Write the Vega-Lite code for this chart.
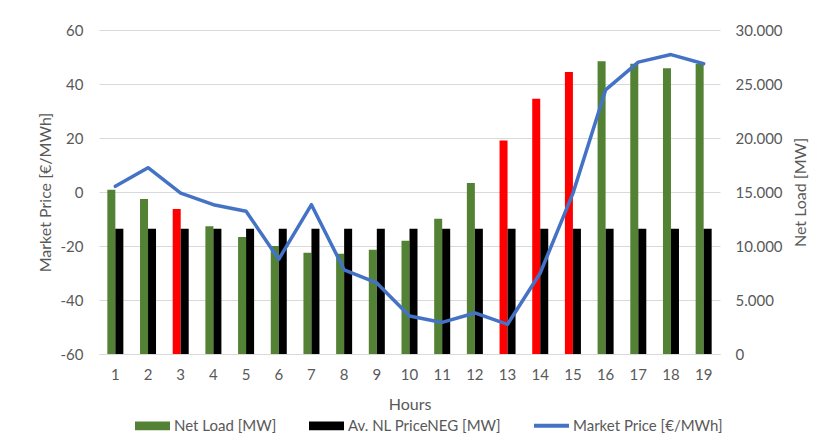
{
  "$schema": "https://vega.github.io/schema/vega-lite/v6.json",
  "autosize": {"type": "none"},
  "width": 621,
  "height": 324,
  "padding": {"left": 99, "top": 30, "right": 99, "bottom": 89},
  "background": "#FFFFFF",
  "config": {
    "font": "Lato",
    "view": {"stroke": null},
    "axis": {
      "labelFont": "Lato",
      "labelFontSize": 15,
      "labelColor": "#595959",
      "titleFont": "Lato",
      "titleFontSize": 16,
      "titleFontWeight": "normal",
      "titleColor": "#595959",
      "ticks": false
    },
    "legend": {
      "labelFont": "Lato",
      "labelFontSize": 15,
      "labelColor": "#595959"
    }
  },
  "data": {
    "values": [
      {"hour": 1, "netLoad": 15200, "avNL": 11600, "price": 2.1, "flag": false},
      {"hour": 2, "netLoad": 14350, "avNL": 11600, "price": 9.0, "flag": false},
      {"hour": 3, "netLoad": 13430, "avNL": 11600, "price": -0.4, "flag": true},
      {"hour": 4, "netLoad": 11820, "avNL": 11600, "price": -4.7, "flag": false},
      {"hour": 5, "netLoad": 10840, "avNL": 11600, "price": -7.1, "flag": false},
      {"hour": 6, "netLoad": 10000, "avNL": 11600, "price": -24.9, "flag": false},
      {"hour": 7, "netLoad": 9380, "avNL": 11600, "price": -4.7, "flag": false},
      {"hour": 8, "netLoad": 9290, "avNL": 11600, "price": -28.8, "flag": false},
      {"hour": 9, "netLoad": 9660, "avNL": 11600, "price": -33.7, "flag": false},
      {"hour": 10, "netLoad": 10480, "avNL": 11600, "price": -45.9, "flag": false},
      {"hour": 11, "netLoad": 12530, "avNL": 11600, "price": -48.3, "flag": false},
      {"hour": 12, "netLoad": 15830, "avNL": 11600, "price": -44.8, "flag": false},
      {"hour": 13, "netLoad": 19770, "avNL": 11600, "price": -49.0, "flag": true},
      {"hour": 14, "netLoad": 23640, "avNL": 11600, "price": -30.0, "flag": true},
      {"hour": 15, "netLoad": 26120, "avNL": 11600, "price": -0.5, "flag": true},
      {"hour": 16, "netLoad": 27110, "avNL": 11600, "price": 37.8, "flag": false},
      {"hour": 17, "netLoad": 26880, "avNL": 11600, "price": 48.1, "flag": false},
      {"hour": 18, "netLoad": 26450, "avNL": 11600, "price": 50.9, "flag": false},
      {"hour": 19, "netLoad": 26860, "avNL": 11600, "price": 47.5, "flag": false}
    ]
  },
  "encoding": {
    "x": {
      "field": "hour",
      "type": "ordinal",
      "title": "Hours",
      "scale": {"paddingInner": 0.51, "paddingOuter": 0.255},
      "axis": {
        "labelAngle": 0,
        "labelPadding": 13,
        "domain": true,
        "domainColor": "#D9D9D9",
        "domainWidth": 1,
        "grid": false,
        "titleY": 50,
        "titleBaseline": "middle"
      }
    }
  },
  "layer": [
    {
      "transform": [
        {"fold": ["netLoad", "avNL"], "as": ["series", "value"]},
        {"calculate": "datum.series === 'netLoad' ? 'Net Load [MW]' : 'Av. NL PriceNEG [MW]'", "as": "key"}
      ],
      "mark": {"type": "bar"},
      "encoding": {
        "xOffset": {
          "field": "key",
          "type": "nominal",
          "sort": ["Net Load [MW]", "Av. NL PriceNEG [MW]"],
          "scale": {"domain": ["Net Load [MW]", "Av. NL PriceNEG [MW]"], "paddingInner": 0, "paddingOuter": 0}
        },
        "y": {
          "field": "value",
          "type": "quantitative",
          "title": "Net Load [MW]",
          "scale": {"domain": [0, 30000], "nice": false},
          "axis": {
            "orient": "right",
            "values": [0, 5000, 10000, 15000, 20000, 25000, 30000],
            "labelExpr": "replace(format(datum.value, ','), ',', '.')",
            "labelPadding": 15,
            "labelAlign": "left",
            "grid": false,
            "domain": false,
            "titleAngle": 270,
            "titleX": 80,
            "titleY": 162,
            "titleBaseline": "middle",
            "titleAlign": "center"
          }
        },
        "color": {
          "field": "key",
          "type": "nominal",
          "condition": {"test": "datum.flag && datum.key === 'Net Load [MW]'", "value": "#FF0000"},
          "scale": {
            "domain": ["Net Load [MW]", "Av. NL PriceNEG [MW]", "Market Price [€/MWh]"],
            "range": ["#548235", "#000000", "#4472C4"]
          },
          "legend": {
            "title": null,
            "orient": "none",
            "direction": "horizontal",
            "legendX": 36,
            "legendY": 378,
            "symbolSize": 1225,
            "labelOffset": 4,
            "columnPadding": 32,
            "encode": {
              "symbols": {
                "update": {
                  "shape": {"signal": "datum.value === 'Market Price [€/MWh]' ? 'M-1,-0.12H1V0.12H-1Z' : 'M-1,-0.25H1V0.25H-1Z'"},
                  "fill": {"signal": "scale('color', datum.value)"},
                  "stroke": {"value": "transparent"},
                  "strokeWidth": {"value": 0},
                  "opacity": {"value": 1}
                }
              }
            }
          }
        }
      }
    },
    {
      "mark": {"type": "line", "strokeWidth": 3.5, "strokeJoin": "round", "strokeCap": "round"},
      "encoding": {
        "y": {
          "field": "price",
          "type": "quantitative",
          "title": "Market Price [€/MWh]",
          "scale": {"domain": [-60, 60], "nice": false},
          "axis": {
            "orient": "left",
            "values": [-60, -40, -20, 0, 20, 40, 60],
            "labelExpr": "datum.value < 0 ? '-' + abs(datum.value) : '' + datum.value",
            "labelPadding": 16,
            "grid": true,
            "gridColor": "#D9D9D9",
            "gridWidth": 1,
            "domain": false,
            "titleAngle": 270,
            "titleX": -54,
            "titleY": 162,
            "titleBaseline": "middle",
            "titleAlign": "center"
          }
        },
        "color": {"datum": "Market Price [€/MWh]"}
      }
    }
  ],
  "resolve": {"scale": {"y": "independent"}}
}
